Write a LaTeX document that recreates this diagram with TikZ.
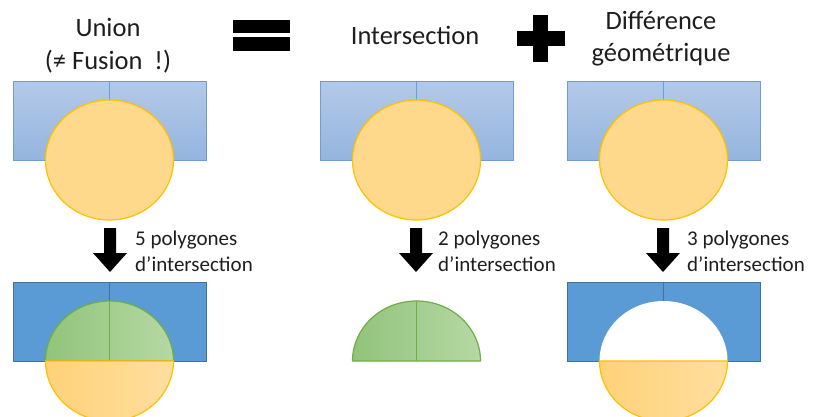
\documentclass[tikz,border=0pt]{standalone}
\usepackage{fontspec}
\setmainfont{Carlito}

\definecolor{opTxt}{RGB}{30,30,30}
\definecolor{opBlueTop}{RGB}{180,201,232}
\definecolor{opBlueBot}{RGB}{148,181,222}
\definecolor{opBlueLine}{RGB}{112,157,212}
\definecolor{opBlueMid}{RGB}{91,155,213}
\definecolor{opBlueDark}{RGB}{65,113,156}
\definecolor{opDiscFill}{RGB}{254,217,140}
\definecolor{opDiscLine}{RGB}{255,192,0}
\definecolor{opGreenL}{RGB}{145,196,123}
\definecolor{opGreenR}{RGB}{182,216,164}
\definecolor{opGreenLine}{RGB}{112,173,71}
\definecolor{opOrangeL}{RGB}{255,210,122}
\definecolor{opOrangeR}{RGB}{255,222,158}

\tikzset{
  rectTop/.style={draw=opBlueLine, top color=opBlueTop, bottom color=opBlueBot, line width=1pt},
  rectBot/.style={draw=opBlueDark, fill=opBlueMid, line width=1pt},
  discTop/.style={draw=opDiscLine, fill=opDiscFill, line width=1.2pt},
  halfGreen/.style={draw=opGreenLine, left color=opGreenL, right color=opGreenR, line width=1.2pt},
  halfOrange/.style={draw=opDiscLine, left color=opOrangeL, right color=opOrangeR, line width=1.2pt},
  title/.style={font=\fontsize{26.5}{31}\selectfont, text=opTxt, anchor=base, inner sep=0pt},
  note/.style={font=\fontsize{21}{25}\selectfont, text=opTxt, anchor=base west, inner sep=0pt},
}

\begin{document}
\begin{tikzpicture}[x=1pt, y=1pt]
  \clip (0,0) rectangle (813,416);
  % titles
  \node[title] (tUnion) at (108,379) {Union};
  \node[title] (tFusion) at (108,346) {(≠ Fusion\hspace{0.45em}!)};
  \node[title] (tInter) at (415,371) {Intersection};
  \node[title] (tDiff) at (661,386) {Différence};
  \node[title] (tGeom) at (661,354) {géométrique};
  % equals and plus signs
  \fill[black] (233,383) rectangle (290,396);
  \fill[black] (233,365) rectangle (290,379);
  \fill[black] (533,354) rectangle (548,401);
  \fill[black] (517,370) rectangle (565,385);
  % top row: two squares and a disc
  \foreach \cx in {109.5,416.5,663.5} {
    \draw[rectTop] (\cx-96.5,256) rectangle (\cx,335);
    \draw[rectTop] (\cx,256) rectangle (\cx+96.5,335);
    \draw[discTop] (\cx,256) ellipse[x radius=64, y radius=60];
  }
  % arrows and counts
  \foreach \ax/\tx/\num in {110/135/5, 416/438/2, 663/687/3} {
    \fill[black] (\ax-6,188) -- (\ax+6,188) -- (\ax+6,163) -- (\ax+17,163)
      -- (\ax,144) -- (\ax-17,163) -- (\ax-6,163) -- cycle;
    \node[note] (n\num a) at (\tx,171) {\num\ polygones};
    \node[note] (n\num b) at (\tx,145) {d’intersection};
  }
  % union result
  \draw[rectBot] (13,55) rectangle (109.5,134);
  \draw[rectBot] (109.5,55) rectangle (206,134);
  \draw[halfGreen] (45.5,55) arc[start angle=180, end angle=0, x radius=64, y radius=60] -- cycle;
  \draw[line width=1pt, draw=opGreenLine] (109.5,55) -- (109.5,115);
  \draw[halfOrange] (45.5,55) arc[start angle=180, end angle=360, x radius=64, y radius=60] -- cycle;
  % intersection result
  \draw[halfGreen] (352.5,55) arc[start angle=180, end angle=0, x radius=64, y radius=60] -- cycle;
  \draw[line width=1pt, draw=opGreenLine] (416.5,55) -- (416.5,115);
  % difference result
  \draw[rectBot] (567,55) rectangle (663.5,134);
  \draw[rectBot] (663.5,55) rectangle (760,134);
  \fill[white] (599.5,55) arc[start angle=180, end angle=0, x radius=64, y radius=60] -- cycle;
  \draw[halfOrange] (599.5,55) arc[start angle=180, end angle=360, x radius=64, y radius=60] -- cycle;
\end{tikzpicture}
\end{document}
